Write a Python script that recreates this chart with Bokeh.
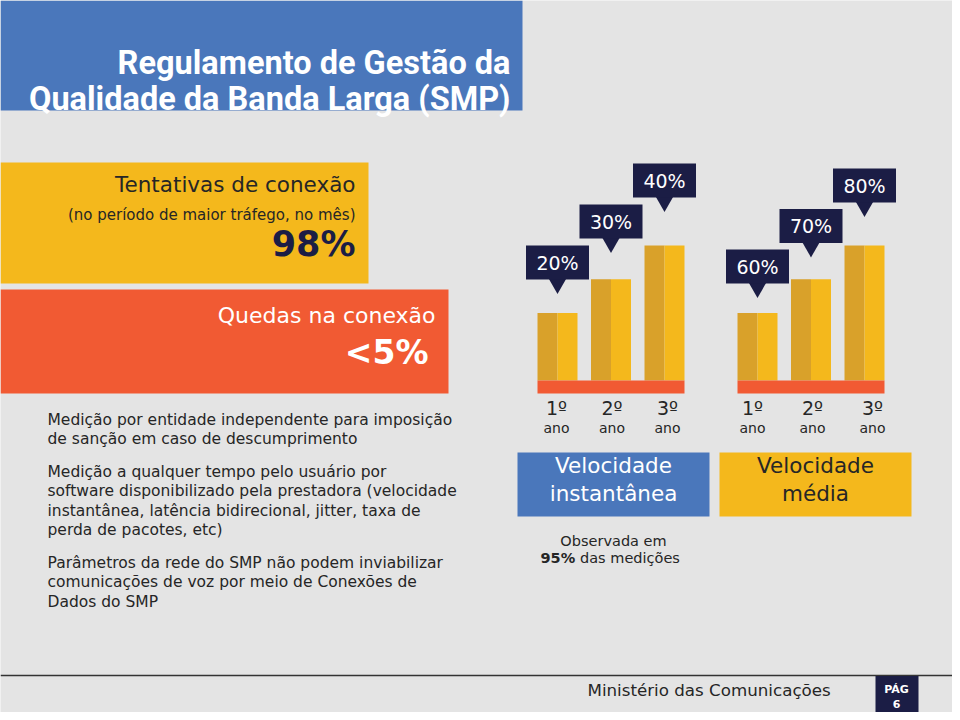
from bokeh.plotting import figure
from bokeh.models import Range1d
from bokeh.core.properties import value
from bokeh.embed import file_html
from bokeh.resources import INLINE

# ---------------- data ----------------
title_lines = ["Regulamento de Gestão da", "Qualidade da Banda Larga (SMP)"]
tent_title = "Tentativas de conexão"
tent_sub = "(no período de maior tráfego, no mês)"
tent_value = 98          # %
quedas_title = "Quedas na conexão"
quedas_value = 5         # < %
years = ["1º", "2º", "3º"]
year_unit = ["ano", "ano", "ano"]
inst_pct = [20, 30, 40]  # Velocidade instantânea
avg_pct = [60, 70, 80]   # Velocidade média
avg_floor = 40
inst_label = ["Velocidade", "instantânea"]
avg_label = ["Velocidade", "média"]
obs_line1 = "Observada em"
obs_bold = "95%"
obs_rest = "das medições"
bullets = [
    ["Medição por entidade independente para imposição",
     "de sanção em caso de descumprimento"],
    ["Medição a qualquer tempo pelo usuário por",
     "software disponibilizado pela prestadora (velocidade",
     "instantânea, latência bidirecional, jitter, taxa de",
     "perda de pacotes, etc)"],
    ["Parâmetros da rede do SMP não podem inviabilizar",
     "comunicações de voz por meio de Conexões de",
     "Dados do SMP"],
]
footer_text = "Ministério das Comunicações"
page_label = ["PÁG", "6"]

# ---------------- style ----------------
BG = "#e4e4e4"
BLUE = "#4a77bb"
YELLOW = "#f4b81c"
BAR_DARK = "#d9a12a"
ORANGE = "#f15a33"
NAVY = "#1b1d45"
TXT = "#262626"
F = value("DejaVu Sans")
W, H = 952, 712

p = figure(width=W, height=H, x_range=Range1d(0, W), y_range=Range1d(H, 0),
           output_backend="svg", toolbar_location=None, title=None,
           x_axis_type=None, y_axis_type=None, min_border=0)
p.background_fill_color = BG
p.border_fill_color = BG
p.outline_line_color = None
p.grid.grid_line_color = None


def span_range(v0, y0, v1, y1):
    k = (y1 - y0) / (v1 - v0)
    c = y0 - k * v0
    return Range1d(start=(H - c) / k, end=(0 - c) / k)


p.extra_y_ranges = {
    "bars_l": span_range(0, 380, 40, 245),
    "bars_r": span_range(avg_floor, 380, 80, 245),
    "box_l": span_range(20, 262, 40, 180),
    "box_r": span_range(60, 266, 80, 185),
    "tip_l": span_range(20, 283, 40, 201),
    "tip_r": span_range(60, 287, 80, 206),
}

# ---------------- title ----------------
p.quad(left=[0], right=[522], top=[0], bottom=[110], fill_color=BLUE, line_color=None)
p.text(x=[510, 510], y=[62, 98.5], text=title_lines, text_align="right",
       text_baseline="alphabetic", text_color="white", text_font=value("Roboto"),
       text_font_style="bold", text_font_size="32.5px")

# ---------------- KPI boxes ----------------
p.quad(left=[0], right=[368], top=[162], bottom=[283], fill_color=YELLOW, line_color=None)
p.text(x=[355], y=[196], text=[tent_title], text_align="right", text_color=TXT,
       text_font=F, text_font_size="21.5px")
p.text(x=[355], y=[223], text=[tent_sub], text_align="right", text_color=TXT,
       text_font=F, text_font_size="15px")
p.text(x=[355], y=[263], text=[f"{tent_value}%"], text_align="right", text_color=NAVY,
       text_font=F, text_font_style="bold", text_font_size="35px")

p.quad(left=[0], right=[448], top=[289], bottom=[393], fill_color=ORANGE, line_color=None)
p.text(x=[435], y=[327], text=[quedas_title], text_align="right", text_color="white",
       text_font=F, text_font_size="22px")
p.text(x=[428], y=[371], text=[f"<{quedas_value}%"], text_align="right", text_color="white",
       text_font=F, text_font_style="bold", text_font_size="33px")

# ---------------- bar groups ----------------
groups = [
    (inst_pct, 537, 0, "bars_l", "box_l", "tip_l", 556, 55.5),
    (avg_pct, 737, avg_floor, "bars_r", "box_r", "tip_r", 752, 60),
]
for vals, x0, base, brange, boxr, tipr, lx0, lstep in groups:
    lefts = [x0 + i * 53.5 for i in range(len(vals))]
    centers = [l + 20 for l in lefts]
    p.vbar(x=[l + 10 for l in lefts], width=20, bottom=base, top=vals,
           fill_color=BAR_DARK, line_color=None, y_range_name=brange)
    p.vbar(x=[l + 30 for l in lefts], width=20, bottom=base, top=vals,
           fill_color=YELLOW, line_color=None, y_range_name=brange)
    p.quad(left=[lefts[0]], right=[lefts[-1] + 40], top=[380], bottom=[393],
           fill_color=ORANGE, line_color=None)
    # callouts
    p.scatter(x=centers, y=vals, marker="inverted_triangle", size=18,
              fill_color=NAVY, line_color=None, y_range_name=tipr)
    p.rect(x=centers, y=vals, width=63, height=34, height_units="screen",
           fill_color=NAVY, line_color=None, y_range_name=boxr)
    p.text(x=centers, y=vals, text=[f"{v}%" for v in vals], text_align="center",
           text_baseline="middle", text_color="white", text_font=F,
           text_font_size="19px", y_range_name=boxr)
    # year labels
    lx = [lx0 + i * lstep for i in range(len(years))]
    p.text(x=lx, y=[418] * 3, text=years, text_align="center", text_color=TXT,
           text_font=F, text_font_size="19px")
    p.text(x=lx, y=[435] * 3, text=year_unit, text_align="center", text_color=TXT,
           text_font=F, text_font_size="14px")

# ---------------- velocity boxes ----------------
p.quad(left=[517], right=[709], top=[452], bottom=[516], fill_color=BLUE, line_color=None)
p.text(x=[613, 613], y=[477, 505], text=inst_label, text_align="center",
       text_color="white", text_font=F, text_font_size="21.5px")
p.quad(left=[719], right=[911], top=[452], bottom=[516], fill_color=YELLOW, line_color=None)
p.text(x=[815, 815], y=[477, 505], text=avg_label, text_align="center",
       text_color=TXT, text_font=F, text_font_size="21.5px")

p.text(x=[613], y=[548], text=[obs_line1], text_align="center", text_color=TXT,
       text_font=F, text_font_size="14.5px")
p.text(x=[540], y=[565], text=[obs_bold], text_align="left", text_color=TXT,
       text_font=F, text_font_style="bold", text_font_size="14.5px")
p.text(x=[579.5], y=[565], text=[obs_rest], text_align="left", text_color=TXT,
       text_font=F, text_font_size="14.5px")

# ---------------- bullet text ----------------
bx, by = [], []
btxt = []
y = 428
for para in bullets:
    for line in para:
        bx.append(47)
        by.append(y)
        btxt.append(line)
        y += 19.4
    y += 13.5
p.text(x=bx, y=by, text=btxt, text_align="left", text_color=TXT,
       text_font=F, text_font_size="15.5px")

# ---------------- footer ----------------
p.segment(x0=[0], y0=[675], x1=[W], y1=[675], line_color="#333333", line_width=1.5)
p.text(x=[587], y=[699], text=[footer_text], text_align="left", text_color=TXT,
       text_font=F, text_font_size="16.7px")
p.quad(left=[875], right=[918], top=[675.5], bottom=[H], fill_color=NAVY, line_color=None)
p.text(x=[896, 896], y=[695, 707], text=page_label, text_align="center",
       text_color="white", text_font=F, text_font_style="bold", text_font_size="11px")

open("out.html", "w").write(file_html(p, INLINE))
